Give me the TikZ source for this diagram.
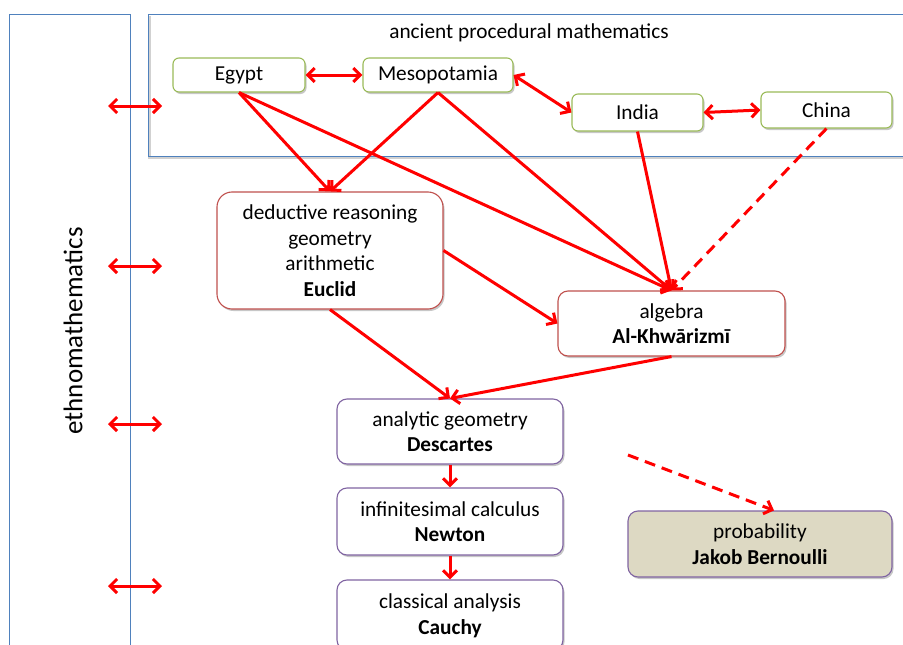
\documentclass[tikz,border=0pt]{standalone}
\usepackage{fontspec}
\setmainfont{Carlito}
\usetikzlibrary{arrows.meta,shadows}
\definecolor{frameblue}{HTML}{4F81BD}
\definecolor{boxgreen}{HTML}{9BBB59}
\definecolor{boxred}{HTML}{C0504D}
\definecolor{boxpurple}{HTML}{8064A2}
\definecolor{boxtan}{HTML}{DDD9C3}
\tikzset{
  frame/.style={draw=frameblue, line width=1pt},
  shad/.style={drop shadow={shadow xshift=1.5pt, shadow yshift=-2pt, opacity=0.22, fill=black}},
  greenbox/.style={draw=boxgreen, line width=1.1pt, rounded corners=6pt, fill=white, shad, inner sep=0pt},
  redbox/.style={draw=boxred, line width=1.1pt, rounded corners=15pt, fill=white, shad, inner sep=0pt, align=center},
  purplebox/.style={draw=boxpurple, line width=1.1pt, rounded corners=10pt, fill=white, shad, inner sep=0pt, align=center},
  conn/.style={draw=red, line width=3pt, -{Straight Barb[length=7pt,width=14pt]}},
  dconn/.style={conn, dash pattern=on 11pt off 7pt},
  bconn/.style={draw=red, line width=3pt, {Straight Barb[length=7pt,width=14pt]}-{Straight Barb[length=7pt,width=14pt]}},
  every node/.style={font=\fontsize{21.3}{25.5}\selectfont}
}
\begin{document}
\begin{tikzpicture}[x=1pt,y=-1pt]
\useasboundingbox (0,0) rectangle (903,645);
\fill[white] (0,0) rectangle (903,645);
% frames
\draw[frame] (9,660) -- (9,14) -- (130,14) -- (130,660);
\draw[black!18, line width=2.5pt] (149.5,16) -- (149.5,157.5) -- (920,157.5);
\draw[frame] (920,14) -- (148,14) -- (148,156) -- (920,156);
\node (ethno) [rotate=90, font=\fontsize{27}{30}\selectfont] at (73,331) {ethnomathematics};
\node (ancient) at (529,33) {ancient procedural mathematics};
% green boxes
\node (egypt) [greenbox, minimum width=132pt, minimum height=34pt] at (239,75) {Egypt};
\node (meso) [greenbox, minimum width=150pt, minimum height=34pt] at (438,75) {Mesopotamia};
\node (india) [greenbox, minimum width=131pt, minimum height=37pt] at (637.5,112.5) {India};
\node (china) [greenbox, minimum width=131pt, minimum height=36pt] at (826.5,110) {China};
% red boxes
\node (euclid) [redbox, minimum width=226pt, minimum height=117pt] at (330,250.5) {deductive reasoning\\geometry\\arithmetic\\\textbf{Euclid}};
\node (alkh) [redbox, rounded corners=10pt, minimum width=227pt, minimum height=65pt] at (671.5,323.5) {algebra\\\textbf{Al-Khwārizmī}};
% purple boxes
\node (desc) [purplebox, minimum width=226pt, minimum height=65pt] at (450,431.5) {analytic geometry\\\textbf{Descartes}};
\node (newton) [purplebox, minimum width=226pt, minimum height=67pt] at (450,521.5) {infinitesimal calculus\\\textbf{Newton}};
\node (cauchy) [purplebox, minimum width=226pt, minimum height=70pt] at (450,615) {};
\node (cauchytxt) [align=center] at (450,616) {classical analysis\\\textbf{Cauchy}};
\node (bern) [purplebox, fill=boxtan, minimum width=264pt, minimum height=66pt] at (760,544) {probability\\\textbf{Jakob Bernoulli}};
% connectors
\draw[bconn] (egypt.east) -- (meso.west);
\draw[bconn] (meso.east) -- (india.west);
\draw[bconn] (india.east) -- (china.west);
\draw[conn] (egypt.south) -- (euclid.north);
\draw[conn] (meso.south) -- (euclid.north);
\draw[conn] (egypt.south) -- (alkh.north);
\draw[conn] (meso.south) -- (alkh.north);
\draw[conn] (india.south) -- (alkh.north);
\draw[dconn] (china.south) -- (alkh.north);
\draw[conn] (euclid.east) -- (alkh.west);
\draw[conn] (euclid.south) -- (desc.north);
\draw[conn] (alkh.south) -- (desc.north);
\draw[conn] (desc.south) -- (newton.north);
\draw[conn] (newton.south) -- (cauchy.north);
\coordinate (pstart) at (628,455);
\draw[dconn] (pstart) -- ([xshift=14pt]bern.north);
% left double arrows
\coordinate (l1) at (108,106); \coordinate (r1) at (162,106);
\coordinate (l2) at (108,266); \coordinate (r2) at (162,266);
\coordinate (l3) at (108,424); \coordinate (r3) at (162,424);
\coordinate (l4) at (108,586); \coordinate (r4) at (162,586);
\draw[bconn] (l1) -- (r1);
\draw[bconn] (l2) -- (r2);
\draw[bconn] (l3) -- (r3);
\draw[bconn] (l4) -- (r4);
\end{tikzpicture}
\end{document}
